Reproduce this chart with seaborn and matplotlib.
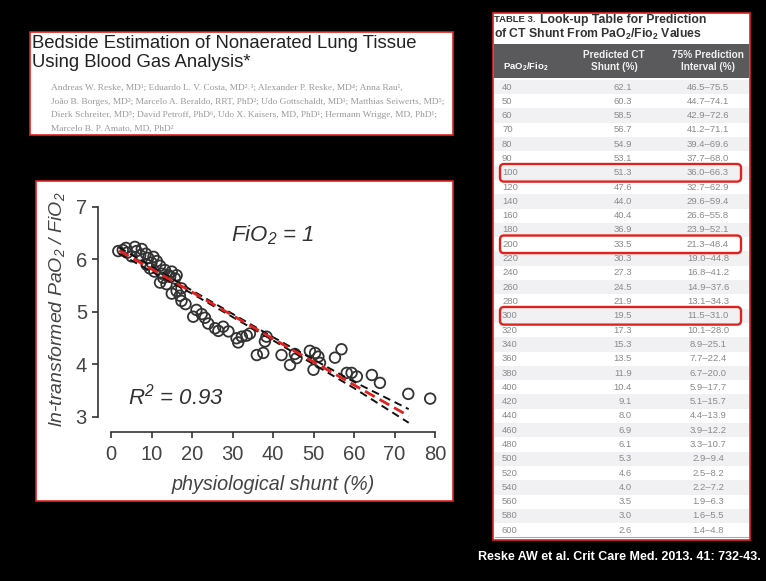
import numpy as np
import pandas as pd
import matplotlib
matplotlib.use("Agg")
import matplotlib.pyplot as plt
import seaborn as sns
from matplotlib.patches import Rectangle, FancyBboxPatch

# ---------------- data ----------------
shunt = [1.8, 2.9, 3.7, 4.0, 5.1, 5.9, 6.3, 7.2, 7.6, 8.6, 8.8, 9.2, 9.6, 10.0, 10.5,
         10.7, 11.3, 12.1, 12.1, 12.5, 12.9, 13.3, 13.7, 14.2, 14.6, 15.0, 15.0, 15.8,
         16.2, 16.2, 17.0, 17.4, 17.4, 18.4, 20.3, 21.1, 22.4, 23.2, 24.0, 25.7, 26.5,
         27.7, 29.0, 31.0, 31.4, 32.3, 33.5, 34.3, 36.0, 37.6, 38.0, 38.4, 42.1, 44.2,
         45.4, 45.8, 49.1, 50.0, 50.4, 51.2, 51.6, 55.3, 56.9, 58.2, 59.4, 60.7, 64.4,
         66.4, 73.4, 78.8]
ln_pf = [6.16, 6.18, 6.22, 6.13, 6.06, 6.24, 6.16, 6.08, 6.20, 6.11, 5.90, 6.03, 5.83,
         5.94, 6.05, 5.77, 5.97, 5.88, 5.56, 5.73, 5.65, 5.80, 5.53, 5.70, 5.67, 5.77,
         5.35, 5.64, 5.70, 5.40, 5.31, 5.45, 5.21, 5.15, 4.91, 5.04, 4.96, 4.89, 4.78,
         4.69, 4.64, 4.72, 4.63, 4.50, 4.42, 4.53, 4.55, 4.59, 4.18, 4.22, 4.44, 4.53,
         4.18, 3.99, 4.20, 4.12, 4.26, 3.90, 4.22, 4.15, 4.03, 4.13, 4.29, 3.84, 3.84,
         3.77, 3.80, 3.65, 3.44, 3.35]

fit_x = [2.0, 20.0, 40.0, 60.0, 73.5]
fit_y = [6.17, 5.38, 4.49, 3.61, 3.02]
ci_upper = [6.23, 5.41, 4.52, 3.67, 3.15]
ci_lower = [6.11, 5.35, 4.46, 3.55, 2.89]

x_ticks = [0, 10, 20, 30, 40, 50, 60, 70, 80]
y_ticks = [3, 4, 5, 6, 7]

pf_ratio = [40, 50, 60, 70, 80, 90, 100, 120, 140, 160, 180, 200, 220, 240, 260, 280,
            300, 320, 340, 360, 380, 400, 420, 440, 460, 480, 500, 520, 540, 560, 580, 600]
pred_shunt = ["62.1", "60.3", "58.5", "56.7", "54.9", "53.1", "51.3", "47.6", "44.0",
              "40.4", "36.9", "33.5", "30.3", "27.3", "24.5", "21.9", "19.5", "17.3",
              "15.3", "13.5", "11.9", "10.4", "9.1", "8.0", "6.9", "6.1", "5.3", "4.6",
              "4.0", "3.5", "3.0", "2.6"]
pi_low = ["46.5", "44.7", "42.9", "41.2", "39.4", "37.7", "36.0", "32.7", "29.6", "26.6",
          "23.9", "21.3", "19.0", "16.8", "14.9", "13.1", "11.5", "10.1", "8.9", "7.7",
          "6.7", "5.9", "5.1", "4.4", "3.9", "3.3", "2.9", "2.5", "2.2", "1.9", "1.6", "1.4"]
pi_high = ["75.5", "74.1", "72.6", "71.1", "69.6", "68.0", "66.3", "62.9", "59.4", "55.8",
           "52.1", "48.4", "44.8", "41.2", "37.6", "34.3", "31.0", "28.0", "25.1", "22.4",
           "20.0", "17.7", "15.7", "13.9", "12.2", "10.7", "9.4", "8.2", "7.2", "6.3",
           "5.5", "4.8"]
highlight_rows = [100, 200, 300]

paper_title = ["Bedside Estimation of Nonaerated Lung Tissue", "Using Blood Gas Analysis*"]
author_lines = [
    "Andreas W. Reske, MD¹; Eduardo L. V. Costa, MD²˒³; Alexander P. Reske, MD⁴; Anna Rau¹,",
    "João B. Borges, MD²; Marcelo A. Beraldo, RRT, PhD²; Udo Gottschaldt, MD¹; Matthias Seiwerts, MD⁵;",
    "Dierk Schreiter, MD⁵; David Petroff, PhD⁶, Udo X. Kaisers, MD, PhD¹; Hermann Wrigge, MD, PhD¹;",
    "Marcelo B. P. Amato, MD, PhD²",
]
citation = "Reske AW et al. Crit Care Med. 2013. 41: 732-43."

# ---------------- style ----------------
sns.set_theme(style="ticks")
plt.rcParams["font.family"] = ["Liberation Sans", "DejaVu Sans"]
plt.rcParams["mathtext.default"] = "regular"

W, H = 766, 581
fig = plt.figure(figsize=(W / 100, H / 100), dpi=100, facecolor="black")

# background axes in pixel coordinates
bg = fig.add_axes([0, 0, 1, 1])
bg.set_xlim(0, W)
bg.set_ylim(H, 0)
bg.axis("off")
bg.set_zorder(0)

RED = "#e0221f"

# paper title box
bg.add_patch(Rectangle((30, 32), 423, 103, facecolor="white", edgecolor=RED, lw=1.2))
for i, line in enumerate(paper_title):
    bg.text(32, 43 + i * 19.5, line, fontsize=13.3, color="#222222", va="center",
            ha="left")
for i, line in enumerate(author_lines):
    bg.text(51, 88 + i * 13.7, line, fontsize=6.75, color="#9a9a9a", va="center",
            ha="left", family=["Liberation Serif", "DejaVu Serif"])

# plot box
bg.add_patch(Rectangle((36, 181), 417, 320, facecolor="white", edgecolor=RED, lw=1.2))

# table
tx0, tx1, ty0, ty1 = 493, 750, 13, 540
bg.add_patch(Rectangle((tx0, ty0), tx1 - tx0, ty1 - ty0, facecolor="white",
                       edgecolor=RED, lw=1.2))
bg.text(494, 20, "TABLE 3.", fontsize=6.8, weight="bold", color="#333333", va="center")
bg.text(540, 20, "Look-up Table for Prediction", fontsize=8.8, weight="bold",
        color="#333333", va="center")
bg.text(494, 34, "of CT Shunt From PaO$_2$/Fio$_2$ Values", fontsize=8.8, weight="bold",
        color="#333333", va="center")
bg.add_patch(Rectangle((tx0 + 1, 44), tx1 - tx0 - 2, 34, facecolor="#5a5a5c", lw=0))
bg.text(503, 67, "PaO$_2$/Fio$_2$", fontsize=6.8, weight="bold", color="white", va="center")
bg.text(614, 61, "Predicted CT\nShunt (%)", fontsize=7.2, weight="bold", color="#f0f0f0",
        va="center", ha="center", linespacing=1.2)
bg.text(708, 61, "75% Prediction\nInterval (%)", fontsize=7.2, weight="bold",
        color="#f0f0f0", va="center", ha="center", linespacing=1.2)

row0, dy = 87.0, 14.3
for i, (p, s, lo, hi) in enumerate(zip(pf_ratio, pred_shunt, pi_low, pi_high)):
    yc = row0 + i * dy
    if i % 2 == 0:
        bg.add_patch(Rectangle((tx0 + 1, yc - dy / 2), tx1 - tx0 - 2, dy,
                               facecolor="#f1f1f3", lw=0))
    bg.text(502, yc, str(p), fontsize=6.8, color="#8a8a8a", va="center", ha="left")
    bg.text(632, yc, s, fontsize=6.8, color="#8a8a8a", va="center", ha="right")
    bg.text(708, yc, f"{lo}–{hi}", fontsize=6.8, color="#8a8a8a", va="center",
            ha="center")
    if p in highlight_rows:
        bg.add_patch(FancyBboxPatch((500, yc - 8.8), 241, 17.6,
                                    boxstyle="round,pad=0,rounding_size=4",
                                    facecolor="none", edgecolor=RED, lw=1.7, zorder=5))
bg.plot([tx0 + 2, tx1 - 2], [537, 537], color="#aaaaaa", lw=0.8)

bg.text(761, 557, citation, fontsize=9, weight="bold", color="white", ha="right",
        va="center")

# ---------------- scatter plot ----------------
def px_rect(l, t, r, b):
    return [l / W, 1 - b / H, (r - l) / W, (b - t) / H]

ax = fig.add_axes(px_rect(98, 200, 440, 432))
ax.set_zorder(2)
ax.patch.set_visible(False)

df = pd.DataFrame({"shunt": shunt, "lnpf": ln_pf})
sns.scatterplot(data=df, x="shunt", y="lnpf", ax=ax, s=58, facecolors="none",
                edgecolor="#333333", linewidth=1.3, zorder=3, legend=False)
for yy in (ci_upper, ci_lower):
    sns.lineplot(x=fit_x, y=yy, ax=ax, color="#111111", lw=1.4, linestyle=(0, (4, 2.5)),
                 zorder=4, sort=False, estimator=None)
sns.lineplot(x=fit_x, y=fit_y, ax=ax, color=RED, lw=2.0, linestyle=(0, (4, 2)),
             zorder=5, sort=False, estimator=None)

ax.set_xlim(-3.21, 81.23)
ax.set_ylim(2.714, 7.133)
ax.set_xticks(x_ticks)
ax.set_yticks(y_ticks)
sns.despine(ax=ax)
ax.spines["left"].set_bounds(3, 7)
ax.spines["bottom"].set_bounds(0, 80)
for sp in ("left", "bottom"):
    ax.spines[sp].set_linewidth(1.2)
    ax.spines[sp].set_color("#333333")
ax.tick_params(axis="both", direction="out", length=4, width=1.2, color="#333333",
               labelsize=14.5, labelcolor="#444444")
ax.tick_params(axis="x", pad=5)
ax.tick_params(axis="y", pad=4)
ax.set_xlabel("")
ax.set_ylabel("")

fig.text(273 / W, 1 - 484 / H, "physiological shunt (%)", fontsize=14.2, style="italic",
         color="#444444", ha="center", va="center")
fig.text(57 / W, 1 - 309 / H, "ln-transformed PaO$_2$ / FiO$_2$", fontsize=14,
         style="italic", color="#444444", ha="center", va="center", rotation=90)
ax.text(40, 6.47, "FiO$_2$ = 1", fontsize=16, style="italic", color="#333333",
        ha="center", va="center")
ax.text(16, 3.38, "R$^2$ = 0.93", fontsize=16, style="italic", color="#333333",
        ha="center", va="center")

fig.savefig("out.png", dpi=100, facecolor="black")
